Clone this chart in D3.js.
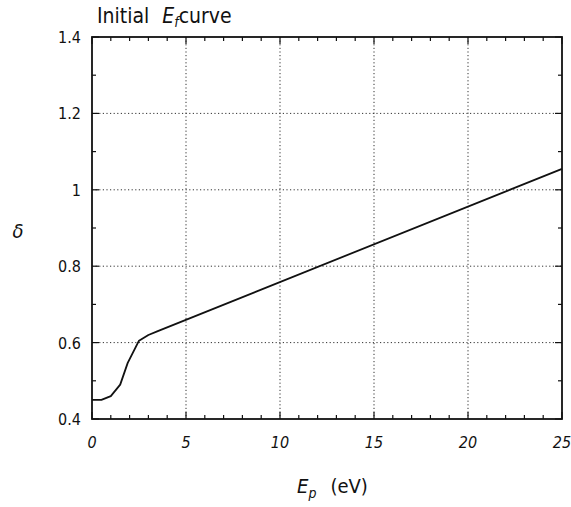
<!DOCTYPE html>
<html>
<head>
<meta charset="utf-8">
<script src="https://cdn.jsdelivr.net/npm/d3@7"></script>
<style>
  body { margin: 0; background: #fff; }
  svg { display: block; }
  text { font-family: "DejaVu Sans Condensed", "DejaVu Sans", "Liberation Sans", sans-serif; font-stretch: condensed; fill: #111; }
</style>
</head>
<body>
<svg id="chart" width="571" height="507"></svg>
<script>
// Initial E_f curve: yield δ vs primary energy E_p
const energy = [0, 0.5, 1.0, 1.5, 1.9, 2.5, 3.0, 3.5, 25];
const delta  = [0.45, 0.45, 0.46, 0.49, 0.547, 0.605, 0.62, 0.63, 1.055];
const xTicks = [0, 5, 10, 15, 20, 25];
const yTicks = [0.4, 0.6, 0.8, 1.0, 1.2, 1.4];
const yTickLabels = ["0.4", "0.6", "0.8", "1", "1.2", "1.4"];

const svg = d3.select("#chart");
const m = { left: 92, right: 562, top: 37, bottom: 419 };

const x = d3.scaleLinear().domain([0, 25]).range([m.left, m.right]);
const y = d3.scaleLinear().domain([0.4, 1.4]).range([m.bottom, m.top]);

// dotted grid at major ticks
const grid = svg.append("g").attr("stroke", "#333").attr("stroke-width", 1)
  .attr("stroke-dasharray", "1.2,2.4");
grid.selectAll(".gx").data(xTicks.slice(1, -1)).join("line")
  .attr("x1", d => x(d)).attr("x2", d => x(d))
  .attr("y1", m.top).attr("y2", m.bottom);
grid.selectAll(".gy").data(yTicks.slice(1, -1)).join("line")
  .attr("x1", m.left).attr("x2", m.right)
  .attr("y1", d => y(d)).attr("y2", d => y(d));

// inward ticks on all four sides
const minorX = d3.range(0, 26, 1);
const minorY = d3.range(0.4, 1.41, 0.1);
const tk = svg.append("g").attr("stroke", "#111").attr("stroke-width", 1.2);
minorX.forEach(v => {
  const len = (v % 5 === 0) ? 7 : 4;
  tk.append("line").attr("x1", x(v)).attr("x2", x(v)).attr("y1", m.bottom).attr("y2", m.bottom - len);
  tk.append("line").attr("x1", x(v)).attr("x2", x(v)).attr("y1", m.top).attr("y2", m.top + len);
});
minorY.forEach((v, i) => {
  const len = (i % 2 === 0) ? 7 : 4;
  tk.append("line").attr("y1", y(v)).attr("y2", y(v)).attr("x1", m.left).attr("x2", m.left + len);
  tk.append("line").attr("y1", y(v)).attr("y2", y(v)).attr("x1", m.right).attr("x2", m.right - len);
});

// frame
svg.append("rect")
  .attr("x", m.left).attr("y", m.top)
  .attr("width", m.right - m.left).attr("height", m.bottom - m.top)
  .attr("fill", "none").attr("stroke", "#111").attr("stroke-width", 1.8);

// tick labels
svg.append("g").selectAll("text").data(xTicks).join("text")
  .attr("x", d => x(d)).attr("y", m.bottom + 29)
  .attr("text-anchor", "middle").attr("font-size", 16).attr("font-style", "italic")
  .text(d => d);
svg.append("g").selectAll("text").data(yTicks).join("text")
  .attr("x", m.left - 11).attr("y", d => y(d) + 6)
  .attr("text-anchor", "end").attr("font-size", 16)
  .text((d, i) => yTickLabels[i]);

// curve
const line = d3.line().x((d, i) => x(energy[i])).y(d => y(d));
svg.append("path").datum(delta)
  .attr("d", line).attr("fill", "none")
  .attr("stroke", "#111").attr("stroke-width", 1.8).attr("stroke-linejoin", "round");

// title
const title = svg.append("text").attr("x", 97).attr("y", 23).attr("font-size", 21);
title.append("tspan").text("Initial");
title.append("tspan").attr("dx", 13).attr("font-style", "italic").text("E");
title.append("tspan").attr("font-style", "italic").attr("font-size", 14).attr("dy", 4).text("f");
title.append("tspan").attr("dy", -4).text("curve");

// axis titles
svg.append("text").attr("x", 18).attr("y", 238)
  .attr("text-anchor", "middle").attr("font-size", 20).attr("font-style", "italic").text("δ");
const xl = svg.append("text").attr("x", 297).attr("y", 493)
  .attr("text-anchor", "start").attr("font-size", 20);
xl.append("tspan").attr("font-style", "italic").text("E");
xl.append("tspan").attr("font-style", "italic").attr("font-size", 14).attr("dy", 5).text("p");
xl.append("tspan").attr("dy", -5).attr("dx", 14).text("(eV)");
</script>
</body>
</html>
